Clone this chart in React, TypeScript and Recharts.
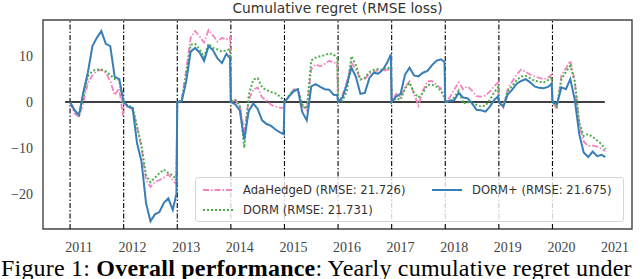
import { LineChart, Line, XAxis, YAxis, ReferenceLine, ReferenceArea } from "recharts";

// regret resets at the start of each forecast year (early November)
const yearStarts = [2010.833, 2011.833, 2012.833, 2013.833, 2014.833, 2015.833, 2016.833, 2017.833, 2018.833, 2019.833];
const stepFractions = [0, 0.083, 0.167, 0.25, 0.333, 0.417, 0.5, 0.583, 0.667, 0.75, 0.833, 0.917, 0.985];
const xTicks = [2011, 2012, 2013, 2014, 2015, 2016, 2017, 2018, 2019, 2020, 2021];
const yTicks = [-20, -10, 0, 10];

// 13 readings per year, 10 years
const adaHedgeD = [
  0, -2.5, -3.3, 0, 4.2, 5.8, 6.8, 7, 6.4, 4.6, 1.5, 3, -3,
  0, -1.3, -1.5, -5.5, -10, -17, -18.5, -17.5, -17, -16.5, -15.8, -17, -18,
  0, 0.5, 7, 14, 15.5, 14.3, 13, 15.7, 14.5, 13.2, 14, 13.6, 14.2,
  0, 0.4, -0.8, -6.5, 0.5, 2.7, 3.2, 1, 0.3, -0.6, -1, -1.2, -1.3,
  0, 1.2, 2.7, 2.9, -0.8, -1.8, 7.2, 8.2, 7.8, 8.3, 9, 8.6, 8.5,
  0, 1.5, 4.5, 8.6, 7, 5, 5, 6.2, 6.5, 7, 6.8, 7, 7.3,
  0, 1.8, 1, 3.2, 4.5, 1.8, -0.8, 2.5, 4.5, 4.6, 3.8, 3, 1.5,
  0, 1, 2.7, 4.3, 2.8, 3.4, 2.5, 1.3, 1.2, 1.4, 2.3, 3.5, 4.3,
  0, -1.2, 2.9, 4.5, 6, 7.1, 6.6, 6, 5.6, 5.3, 5, 5.3, 6,
  0, -1.5, 5.8, 7.3, 9, 4.5, -5, -8.6, -9.6, -9.5, -9.7, -10.2, -10.7,
];
const dorm = [
  0, -1.8, -2.9, 1.2, 5.6, 6.8, 7.1, 7.1, 6.7, 5.9, 5, 4.9, 0,
  0, -0.8, -1.1, -5.3, -9.5, -16, -17.5, -16.5, -15.5, -14.7, -15.5, -16, -17,
  0, 0.3, 6, 12.5, 12.7, 11.5, 9.8, 12.7, 11.8, 11.5, 11, 11.3, 11.5,
  0, 0.5, -0.8, -10, 1.5, 4.9, 5.2, 3.2, 2.6, 2.2, 1.9, 1.2, 0.4,
  0, 1.4, 2.5, 2.8, -0.5, -1.5, 9.1, 9.7, 10, 10.2, 10.6, 10.4, 9.5,
  0, 0.3, 2.5, 10, 8, 4.9, 5.3, 6.5, 7, 7.2, 7, 7.6, 7.2,
  0, 0.8, 0.5, 3, 4.2, 2, 1, 2, 3.7, 3.8, 3.4, 2.5, 1,
  0, 0.2, 1, 2.5, -0.3, 0, -0.3, -0.6, -1, -0.8, 0.5, 2.2, 3.2,
  0, -0.7, 2.4, 3.5, 4.8, 5.6, 5.7, 5.2, 4.6, 4.5, 4.2, 4.8, 5.5,
  0, -1, 5, 6.6, 7.9, 4.5, -4.5, -7.4, -7, -7.6, -8.4, -9.2, -10.3,
];
const dormPlus = [
  0, -1.8, -2.8, 2.3, 6.5, 12.2, 14, 15.5, 12.7, 12.2, 5.5, 5, 1,
  0, -1, -1.3, -9, -13, -22, -26, -24.5, -24, -22, -21, -23.5, -20,
  0, 0.2, 4.5, 11, 11.8, 10.8, 9, 12.2, 11.3, 9.5, 8.5, 10.5, 9.5,
  0, -0.5, -1.8, -8.2, -2, -0.3, -1.5, -4, -4.8, -5.2, -6, -6.6, -7,
  0, 1.2, 2.3, 2.8, -2.2, -4, 3.4, 3.9, 3.3, 2.8, 2.7, 1.6, 1.5,
  0, 1, 4, 7.5, 5.5, 1.8, 2, 5.2, 6.4, 6.2, 7, 8.6, 10.4,
  0, 1.2, 1.8, 6, 7.5, 5.8, 5.6, 6.4, 6.8, 8, 9, 9.3, 8.8,
  0, 0.3, 0.4, 2, 1, 0.8, -0.3, -1.7, -1.8, -2.1, -1, 0.5, 1.2,
  0, -1, 1.7, 2.7, 4, 4.6, 5, 4.3, 3.4, 3.1, 3, 3.3, 4,
  0, -0.5, 3.2, 2.8, 5, 0.5, -7, -11, -12, -10.8, -11.8, -11.5, -12,
];

const X_MIN = 2010.328;
const X_MAX = 2021.317;
const Y_MIN = -27.7;
const Y_MAX = 17.9;

const series = [
  { key: "adaHedgeD", label: "AdaHedgeD (RMSE: 21.726)", color: "#f781bf", dash: "6 2 1.5 2", width: 1.8 },
  { key: "dorm", label: "DORM (RMSE: 21.731)", color: "#4daf4a", dash: "2 2", width: 2 },
  { key: "dormPlus", label: "DORM+ (RMSE: 21.675)", color: "#377eb8", dash: undefined, width: 2 },
];

const data = [];
yearStarts.forEach((start, i) => {
  stepFractions.forEach((f, j) => {
    const k = i * stepFractions.length + j;
    data.push({ t: start + f, adaHedgeD: adaHedgeD[k], dorm: dorm[k], dormPlus: dormPlus[k] });
  });
});

const fmtY = (v: number) => (v < 0 ? "\u2212" + Math.abs(v) : String(v));

function LegendBox() {
  const item = (s: any, left: number, top: number) => (
    <div key={s.key} style={{ position: "absolute", left, top, height: 14, display: "flex", alignItems: "center" }}>
      <svg width={30} height={6} style={{ marginRight: 10 }}>
        <line x1={0} y1={3} x2={30} y2={3} stroke={s.color} strokeWidth={s.width} strokeDasharray={s.dash} />
      </svg>
      <span style={{ whiteSpace: "nowrap" }}>{s.label}</span>
    </div>
  );
  return (
    <div
      style={{
        position: "absolute", left: 195, top: 177, width: 429, height: 45, boxSizing: "border-box",
        border: "1px solid #d6d6d6", borderRadius: 3, background: "rgba(255,255,255,0.8)",
        fontFamily: "DejaVu Sans", fontSize: 11.6, color: "#333",
      }}
    >
      {item(series[0], 7, 5)}
      {item(series[1], 7, 25)}
      {item(series[2], 236, 5)}
    </div>
  );
}

export default function App() {
  return (
    <div style={{ position: "absolute", left: 0, top: 0, width: 640, height: 279, overflow: "hidden", background: "#fff" }}>
      <div
        style={{
          position: "absolute", left: 43, top: 0, width: 589, textAlign: "center",
          fontFamily: "DejaVu Sans", fontSize: 13.8, lineHeight: "17px", color: "#333",
        }}
      >
        Cumulative regret (RMSE loss)
      </div>
      <LineChart width={640} height={279} data={data} margin={{ top: 20, right: 8, bottom: 20, left: 0 }}>
        <XAxis
          type="number" dataKey="t" domain={[X_MIN, X_MAX]} ticks={xTicks} allowDataOverflow
          axisLine={false} tickLine={false} tickSize={6} tickMargin={7} height={30}
          tick={{ fontFamily: "Liberation Serif", fontSize: 14, fill: "#444" }}
        />
        <YAxis
          type="number" domain={[Y_MIN, Y_MAX]} ticks={yTicks} allowDataOverflow width={43}
          axisLine={false} tickLine={false} tickMargin={4} tickFormatter={fmtY}
          tick={{ fontFamily: "Liberation Serif", fontSize: 14, fill: "#444" }}
        />
        {yearStarts.map((x) => (
          <ReferenceLine key={x} x={x} stroke="#000" strokeWidth={1.1} strokeDasharray="5 2 1.5 2" />
        ))}
        <ReferenceLine segment={[{ x: 2010.74, y: 0 }, { x: 2020.81, y: 0 }]} stroke="#000" strokeWidth={1.5} />
        {series.map((s) => (
          <Line
            key={s.key} type="linear" dataKey={s.key} stroke={s.color} strokeWidth={s.width}
            strokeDasharray={s.dash} dot={false} activeDot={false} isAnimationActive={false}
          />
        ))}
        <ReferenceArea x1={X_MIN} x2={X_MAX} y1={Y_MIN} y2={Y_MAX} fill="none" stroke="#444" strokeWidth={1.4} />
      </LineChart>
      <LegendBox />
      <div
        style={{
          position: "absolute", left: 1, top: 256, whiteSpace: "nowrap",
          fontFamily: "Liberation Serif", fontSize: 24, lineHeight: "24px", letterSpacing: 0.2, color: "#000",
        }}
      >
        Figure 1: <b>Overall performance</b>: Yearly cumulative regret under
      </div>
    </div>
  );
}
